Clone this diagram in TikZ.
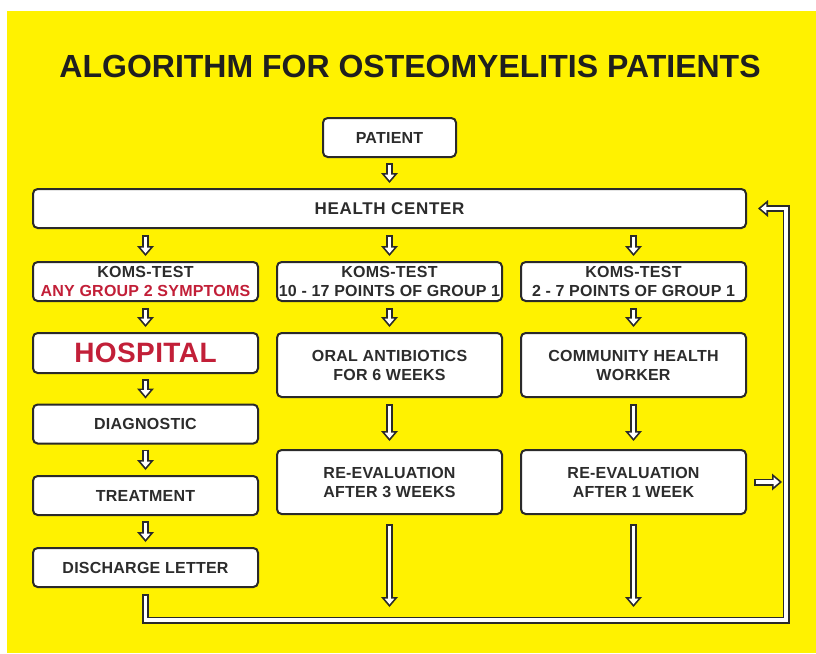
\documentclass[tikz,border=0pt]{standalone}
\usepackage{fontspec}
\setmainfont{Liberation Sans}
\newfontfamily\boxfnt[LetterSpace=1.5]{Liberation Sans}
\newfontfamily\widefnt[LetterSpace=4]{Liberation Sans}
\usetikzlibrary{arrows.meta,calc}
\definecolor{bg}{HTML}{FFF200}
\definecolor{edge}{HTML}{2A2A2A}
\definecolor{txt}{HTML}{2C2C2C}
\definecolor{hred}{HTML}{C21F38}
\begin{document}
\begin{tikzpicture}[x=0.75pt,y=-0.75pt,
  box/.style={draw=edge, line width=1.5pt, fill=white, rounded corners=3.5pt,
    inner sep=0pt, align=center, text=txt, minimum width=168.75pt, minimum height=29.25pt,
    font=\boxfnt\bfseries\fontsize{12}{14.25}\selectfont},
  tallbox/.style={box, minimum height=48pt},
  blk/.style={draw=edge, line width=5.25pt, line join=miter,
    -{Triangle[length=7.5pt,width=12.75pt,line width=0pt]},
    postaction={draw=white, line width=2.6pt,
      -{Triangle[length=4.2pt,width=7.1pt,line width=0pt]},
      shorten >=2pt, shorten <=1.3pt}}
  ]
\useasboundingbox (0,0) rectangle (816,653);
\fill[white] (0,0) rectangle (816,653);
\fill[bg] (7,11) rectangle (816,653);

\node[text=black!88, font=\bfseries\fontsize{24}{28}\selectfont] (title) at (410,66) {ALGORITHM FOR OSTEOMYELITIS PATIENTS};

\node[box, minimum width=99.75pt] (patient) at (389.5,137.5) {PATIENT};
\node[box, minimum width=534.75pt, font=\widefnt\bfseries\fontsize{12.75}{15}\selectfont] (hc) at (389.5,208.5) {HEALTH CENTER};

\node[box] (k1) at (145.5,281.5) {KOMS-TEST\\\textcolor{hred}{ANY GROUP 2 SYMPTOMS}};
\node[box] (k2) at (389.5,281.5) {KOMS-TEST\\10 - 17 POINTS OF GROUP 1};
\node[box] (k3) at (633.5,281.5) {KOMS-TEST\\2 - 7 POINTS OF GROUP 1};

\node[box, minimum height=30pt, text=hred, font=\boxfnt\bfseries\fontsize{21}{24}\selectfont] (hosp) at (145.5,353) {HOSPITAL};
\node[tallbox] (oral) at (389.5,365) {ORAL ANTIBIOTICS\\FOR 6 WEEKS};
\node[tallbox] (chw) at (633.5,365) {COMMUNITY HEALTH\\WORKER};

\node[box] (diag) at (145.5,424) {DIAGNOSTIC};
\node[box] (treat) at (145.5,495.5) {TREATMENT};
\node[box] (disc) at (145.5,567.5) {DISCHARGE LETTER};

\node[tallbox] (re3) at (389.5,482) {RE-EVALUATION\\AFTER 3 WEEKS};
\node[tallbox] (re1) at (633.5,482) {RE-EVALUATION\\AFTER 1 WEEK};

% short arrows
\draw[blk] ($(patient.south)+(0,5)$) -- ($(hc.north)+(0,-5)$);
\draw[blk] ($(hc.south -| k1.north)+(0,6)$) -- ($(k1.north)+(0,-5)$);
\draw[blk] ($(hc.south -| k2.north)+(0,6)$) -- ($(k2.north)+(0,-5)$);
\draw[blk] ($(hc.south -| k3.north)+(0,6)$) -- ($(k3.north)+(0,-5)$);
\draw[blk] ($(k1.south)+(0,6)$) -- ($(hosp.north)+(0,-5)$);
\draw[blk] ($(k2.south)+(0,6)$) -- ($(oral.north)+(0,-5)$);
\draw[blk] ($(k3.south)+(0,6)$) -- ($(chw.north)+(0,-5)$);
\draw[blk] ($(hosp.south)+(0,5)$) -- ($(diag.north)+(0,-5)$);
\draw[blk] ($(diag.south)+(0,5)$) -- ($(treat.north)+(0,-5)$);
\draw[blk] ($(treat.south)+(0,5)$) -- ($(disc.north)+(0,-5)$);

% long arrows
\draw[blk] ($(oral.south)+(0,6)$) -- ($(re3.north)+(0,-8)$);
\draw[blk] ($(chw.south)+(0,6)$) -- ($(re1.north)+(0,-8)$);
\coordinate (end3) at (389.5,607);
\coordinate (end1) at (633.5,607);
\draw[blk] ($(re3.south)+(0,9)$) -- (end3);
\draw[blk] ($(re1.south)+(0,9)$) -- (end1);
\draw[blk] ($(re1.east)+(7,0)$) -- ($(re1.east)+(35,0)$);

% feedback loop
\coordinate (loopR) at (786,620);
\draw[blk] ($(disc.south)+(0,6)$) |- (loopR) |- ($(hc.east)+(11,0)$);
\end{tikzpicture}
\end{document}
